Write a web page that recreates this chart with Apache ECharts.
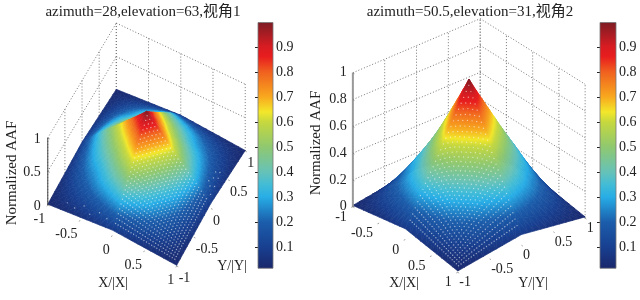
<!DOCTYPE html>
<html><head><meta charset="utf-8">
<style>html,body{margin:0;padding:0;background:#fff}#c{width:640px;height:300px}</style>
<script src="https://cdn.jsdelivr.net/npm/echarts@6/dist/echarts.min.js"></script>
</head><body><div id="c"></div>
<script>
// Surface heights, Y = -1 ... 1 by rows, X = -1 ... 1 by columns (step 0.1)
const row00=[.010,.017,.024,.031,.038,.045,.052,.059,.066,.073,.080,.073,.066,.059,.052,.045,.038,.031,.024,.017,.010];
const row01=[.017,.034,.050,.067,.083,.099,.115,.131,.147,.163,.178,.163,.147,.131,.115,.099,.083,.067,.050,.034,.017];
const row02=[.024,.050,.076,.102,.128,.153,.178,.203,.227,.251,.275,.251,.227,.203,.178,.153,.128,.102,.076,.050,.024];
const row03=[.031,.067,.102,.137,.172,.206,.240,.273,.306,.339,.371,.339,.306,.273,.240,.206,.172,.137,.102,.067,.031];
const row04=[.038,.083,.128,.172,.215,.250,.295,.335,.375,.415,.455,.415,.375,.335,.295,.250,.215,.172,.128,.083,.038];
const row05=[.045,.099,.153,.206,.250,.290,.340,.390,.440,.490,.540,.490,.440,.390,.340,.290,.250,.206,.153,.099,.045];
const row06=[.052,.115,.178,.240,.295,.340,.390,.450,.510,.570,.630,.570,.510,.450,.390,.340,.295,.240,.178,.115,.052];
const row07=[.059,.131,.203,.273,.335,.390,.450,.510,.580,.650,.720,.650,.580,.510,.450,.390,.335,.273,.203,.131,.059];
const row08=[.066,.147,.227,.306,.375,.440,.510,.580,.650,.730,.810,.730,.650,.580,.510,.440,.375,.306,.227,.147,.066];
const row09=[.073,.163,.251,.339,.415,.490,.570,.650,.730,.820,.900,.820,.730,.650,.570,.490,.415,.339,.251,.163,.073];
const row10=[.080,.178,.275,.371,.455,.540,.630,.720,.810,.900,.995,.900,.810,.720,.630,.540,.455,.371,.275,.178,.080];
const row11=[.073,.163,.251,.339,.415,.490,.570,.650,.730,.820,.900,.820,.730,.650,.570,.490,.415,.339,.251,.163,.073];
const row12=[.066,.147,.227,.306,.375,.440,.510,.580,.650,.730,.810,.730,.650,.580,.510,.440,.375,.306,.227,.147,.066];
const row13=[.059,.131,.203,.273,.335,.390,.450,.510,.580,.650,.720,.650,.580,.510,.450,.390,.335,.273,.203,.131,.059];
const row14=[.052,.115,.178,.240,.295,.340,.390,.450,.510,.570,.630,.570,.510,.450,.390,.340,.295,.240,.178,.115,.052];
const row15=[.045,.099,.153,.206,.250,.290,.340,.390,.440,.490,.540,.490,.440,.390,.340,.290,.250,.206,.153,.099,.045];
const row16=[.038,.083,.128,.172,.215,.250,.295,.335,.375,.415,.455,.415,.375,.335,.295,.250,.215,.172,.128,.083,.038];
const row17=[.031,.067,.102,.137,.172,.206,.240,.273,.306,.339,.371,.339,.306,.273,.240,.206,.172,.137,.102,.067,.031];
const row18=[.024,.050,.076,.102,.128,.153,.178,.203,.227,.251,.275,.251,.227,.203,.178,.153,.128,.102,.076,.050,.024];
const row19=[.017,.034,.050,.067,.083,.099,.115,.131,.147,.163,.178,.163,.147,.131,.115,.099,.083,.067,.050,.034,.017];
const row20=[.010,.017,.024,.031,.038,.045,.052,.059,.066,.073,.080,.073,.066,.059,.052,.045,.038,.031,.024,.017,.010];
const surfaceRows=[row00,row01,row02,row03,row04,row05,row06,row07,row08,row09,row10,row11,row12,row13,row14,row15,row16,row17,row18,row19,row20];
const axisX=[-1,-.9,-.8,-.7,-.6,-.5,-.4,-.3,-.2,-.1,0,.1,.2,.3,.4,.5,.6,.7,.8,.9,1];
const axisY=axisX;

// Tick labels
const xTicks=[-1,-.5,0,.5,1];
const yTicks=[-1,-.5,0,.5,1];
const zTicksLeft=[0,.5,1];
const zTicksRight=[0,.2,.4,.6,.8,1];
const colorbarTicks=[.1,.2,.3,.4,.5,.6,.7,.8,.9];
const colorbarRange=[.015,.998];

// Colour map
const cmapValues=[0,.1,.2,.3,.35,.4,.5,.6,.64,.7,.8,.86,.9,1];
const cmapColors=['#1a276b','#183f90','#1b5dab','#27ade6','#42bcd6','#66c2b8','#8fc870','#c6d83e','#f3e72a','#f8a81e','#f0601f','#e81d1e','#d81c22','#7c1c24'];

// Bright mesh specks in the front quadrant, plus the few strays of the first view
const dotX=[.02,.06,.10,.14,.18,.22,.26,.30,.34,.38,.42,.46,.50,.54,.58,.62,.66,.70,.74,.78,.82,.86,.90,.94];
const dotY=[-.94,-.90,-.86,-.82,-.78,-.74,-.70,-.66,-.62,-.58,-.54,-.50,-.46,-.42,-.38,-.34,-.30,-.26,-.22,-.18,-.14,-.10,-.06,-.02];
const strayX=[.90,.86,.92,.88,.94,.90,.95,.86,-.75,-.62,-.50,-.38,-.25,-.12];
const strayY=[.45,.40,.36,.30,.22,.16,.08,.20,-.90,-.93,-.88,-.94,-.90,-.93];

const serif='"Liberation Serif","Noto Sans CJK SC",serif';
const views=[
 {az:28,el:63,zAspect:2.02,zTicks:zTicksLeft,xyIndex:0,zStroke:'#444',zWidth:1,strays:true,
  xOff:[-2.5,14.5],yOff:[2,12.5],zOff:[-7,1]},
 {az:50.5,el:31,zAspect:1.895,zTicks:zTicksRight,xyIndex:1,zStroke:'#999',zWidth:2,strays:false,
  xOff:[-6,10.5],yOff:[1.5,10.5],zOff:[-6,0]}
];
views.forEach(v=>{const a=v.az*Math.PI/180,e=v.el*Math.PI/180;
  v.ca=Math.cos(a);v.sa=Math.sin(a);v.se=Math.sin(e);v.ce=Math.cos(e);});
function project(v,x,y,z){
  return [x*v.ca+y*v.sa,(-x*v.sa+y*v.ca)*v.se+z*v.zAspect*v.ce];
}
function hexRgb(h){return [1,3,5].map(i=>parseInt(h.substr(i,2),16));}
const cmapRgb=cmapColors.map(hexRgb);
function colorAt(z){
  const n=cmapValues.length;
  if(z<=cmapValues[0])return 'rgb('+cmapRgb[0]+')';
  for(let i=1;i<n;i++){ if(z<=cmapValues[i]){
    const t=(z-cmapValues[i-1])/(cmapValues[i]-cmapValues[i-1]);
    return 'rgb('+cmapRgb[i].map((c,k)=>Math.round(cmapRgb[i-1][k]+(c-cmapRgb[i-1][k])*t)).join(',')+')';
  }}
  return 'rgb('+cmapRgb[n-1]+')';
}
function triFill(p,z){
  const z0=Math.min(z[0],z[1],z[2]),z1=Math.max(z[0],z[1],z[2]);
  const ax=p[1][0]-p[0][0],ay=p[1][1]-p[0][1],bx=p[2][0]-p[0][0],by=p[2][1]-p[0][1];
  const det=ax*by-ay*bx;
  const mean=colorAt((z[0]+z[1]+z[2])/3);
  if(z1-z0<1e-4||Math.abs(det)<0.05)return mean;
  const dz1=z[1]-z[0],dz2=z[2]-z[0];
  const gx=(dz1*by-dz2*ay)/det,gy=(ax*dz2-bx*dz1)/det;
  const g2=gx*gx+gy*gy;
  const low=p[z.indexOf(z0)];
  const x2=low[0]+gx*(z1-z0)/g2,y2=low[1]+gy*(z1-z0)/g2;
  const stops=[{offset:0,color:colorAt(z0)}];
  cmapValues.forEach(c=>{if(c>z0&&c<z1)stops.push({offset:(c-z0)/(z1-z0),color:colorAt(c)});});
  stops.push({offset:1,color:colorAt(z1)});
  return {type:'linear',x:low[0],y:low[1],x2:x2,y2:y2,global:true,colorStops:stops};
}
function heightAt(x,y){
  const fx=(x+1)*10,fy=(y+1)*10;
  const i=Math.min(19,Math.floor(fx)),j=Math.min(19,Math.floor(fy));
  const s=fx-i,t=fy-j;
  return surfaceRows[j][i]*(1-s)*(1-t)+surfaceRows[j][i+1]*s*(1-t)+surfaceRows[j+1][i]*(1-s)*t+surfaceRows[j+1][i+1]*s*t;
}
const cellIndex=[];
for(let j=0;j<20;j++)for(let i=0;i<20;i++)cellIndex.push([i,j]);
const dotData=[];
dotX.forEach(x=>dotY.forEach(y=>dotData.push([x,y])));
const strayData=strayX.map((x,i)=>[x,strayY[i]]);

function surfaceSeries(v){
  const order=cellIndex.slice().sort((p,q)=>{
    const d=c=>axisX[c[0]]*v.sa-axisY[c[1]]*v.ca; return d(p)-d(q);});
  return {type:'custom',coordinateSystem:'cartesian2d',xAxisIndex:v.xyIndex,yAxisIndex:v.xyIndex,
    silent:true,animation:false,clip:false,z:3,progressive:0,
    data:order,encode:{x:0,y:1},
    renderItem:function(params,api){
      const c=order[params.dataIndex],i=c[0],j=c[1];
      const pts=[[i,j],[i+1,j],[i+1,j+1],[i,j+1]].map(q=>{
        const z=surfaceRows[q[1]][q[0]];
        return {z:z,p:api.coord(project(v,axisX[q[0]],axisY[q[1]],z))};
      });
      const tri=(a,b,d)=>{
        const P=[pts[a].p,pts[b].p,pts[d].p],Z=[pts[a].z,pts[b].z,pts[d].z];
        const f=triFill(P,Z);
        return {type:'polygon',shape:{points:P},style:{fill:f,stroke:f,lineWidth:.7}};
      };
      const samesign=(axisX[i]+.05)*(axisY[j]+.05)>0;
      const children=samesign?[tri(0,1,2),tri(0,2,3)]:[tri(0,1,3),tri(1,2,3)];
      return {type:'group',children:children};
    }};
}
function dotSeries(v){
  const pts=v.strays?dotData.concat(strayData):dotData;
  return {type:'custom',coordinateSystem:'cartesian2d',xAxisIndex:v.xyIndex,yAxisIndex:v.xyIndex,
    silent:true,animation:false,clip:false,z:4,progressive:0,
    data:pts,encode:{x:0,y:1},
    renderItem:function(params,api){
      const d=pts[params.dataIndex];
      const p=api.coord(project(v,d[0],d[1],heightAt(d[0],d[1])));
      return {type:'circle',shape:{cx:p[0],cy:p[1],r:.7},style:{fill:'#fff',opacity:.55}};
    }};
}
function line(api,v,a,b,style){
  const p=api.coord(project(v,a[0],a[1],a[2])),q=api.coord(project(v,b[0],b[1],b[2]));
  return {type:'line',shape:{x1:p[0],y1:p[1],x2:q[0],y2:q[1]},style:style};
}
function wallSeries(v){
  return {type:'custom',coordinateSystem:'cartesian2d',xAxisIndex:v.xyIndex,yAxisIndex:v.xyIndex,
    silent:true,animation:false,clip:false,z:2,data:[[0,0]],encode:{x:0,y:1},
    renderItem:function(params,api){
      const dot={stroke:'#777',lineWidth:1,lineDash:[1,2],fill:null};
      const out=[];
      v.zTicks.forEach(z=>{
        out.push(line(api,v,[-1,-1,z],[-1,1,z],dot));
        out.push(line(api,v,[-1,1,z],[1,1,z],dot));
      });
      xTicks.forEach(x=>out.push(line(api,v,[x,1,0],[x,1,1],dot)));
      yTicks.forEach(y=>out.push(line(api,v,[-1,y,0],[-1,y,1],dot)));
      return {type:'group',children:out};
    }};
}
function axisSeries(v){
  return {type:'custom',coordinateSystem:'cartesian2d',xAxisIndex:v.xyIndex,yAxisIndex:v.xyIndex,
    silent:true,animation:false,clip:false,z:5,data:[[0,0]],encode:{x:0,y:1},
    renderItem:function(params,api){
      const out=[];
      const edge={stroke:'#666',lineWidth:.6,fill:null};
      const zs={stroke:v.zStroke,lineWidth:v.zWidth,fill:null};
      out.push(line(api,v,[-1,-1,0],[-1,-1,1],zs));
      const txt=(s,p,off,align)=>({type:'text',style:{text:String(s),x:p[0]+off[0],y:p[1]+off[1],
        fill:'#222',fontFamily:serif,fontSize:14,align:align,verticalAlign:'middle'}});
      xTicks.forEach(x=>{
        out.push(line(api,v,[x,-1,0],[x,-1.025,0],edge));
        out.push(txt(x,api.coord(project(v,x,-1,0)),v.xOff,'right'));
      });
      yTicks.forEach(y=>{
        out.push(line(api,v,[1,y,0],[1.025,y,0],edge));
        out.push(txt(y,api.coord(project(v,1,y,0)),v.yOff,'left'));
      });
      v.zTicks.forEach(z=>{
        out.push(line(api,v,[-1,-1,z],[-.97,-1,z],edge));
        out.push(txt(z,api.coord(project(v,-1,-1,z)),v.zOff,'right'));
      });
      return {type:'group',children:out};
    }};
}
function colorbarSeries(idx){
  return {type:'custom',coordinateSystem:'cartesian2d',xAxisIndex:idx,yAxisIndex:idx,
    silent:true,animation:false,clip:false,z:2,data:[[0,colorbarRange[0],colorbarRange[1]]],encode:{x:0,y:[1,2]},
    renderItem:function(params,api){
      const top=api.coord([0,colorbarRange[1]]),bot=api.coord([0,colorbarRange[0]]);
      const w=params.coordSys.width,x=params.coordSys.x;
      const span=colorbarRange[1]-colorbarRange[0];
      const stops=cmapValues.map(c=>({offset:Math.min(1,Math.max(0,(colorbarRange[1]-c)/span)),color:colorAt(c)})).reverse();
      return {type:'rect',shape:{x:x,y:top[1],width:w,height:bot[1]-top[1]},
        style:{fill:{type:'linear',x:0,y:0,x2:0,y2:1,colorStops:stops},stroke:'#777',lineWidth:.8}};
    }};
}
const hiddenX=(gi,min,max)=>({type:'value',gridIndex:gi,min:min,max:max,show:false});
const cbAxisY=(gi)=>({type:'value',gridIndex:gi,min:0,max:1,position:'right',
  axisLine:{show:false},splitLine:{show:false},
  axisTick:{show:true,inside:true,length:3,customValues:colorbarTicks,lineStyle:{color:'#222',width:1}},
  axisLabel:{show:true,margin:3,customValues:colorbarTicks,color:'#222',fontFamily:serif,fontSize:14,formatter:val=>String(val)}});
const labelStyle=(t,s)=>({text:t,fill:'#222',fontFamily:serif,fontSize:s,align:'center',verticalAlign:'middle'});

const chart=echarts.init(document.getElementById('c'),null,{renderer:'canvas'});
chart.setOption({
  animation:false,backgroundColor:'#fff',
  title:[
    {text:'azimuth=28,elevation=63,视角1',left:138,top:0,textAlign:'center',textStyle:{fontFamily:serif,fontWeight:'normal',fontSize:15,color:'#222'}},
    {text:'azimuth=50.5,elevation=31,视角2',left:465,top:0,textAlign:'center',textStyle:{fontFamily:serif,fontWeight:'normal',fontSize:15,color:'#222'}}
  ],
  grid:[
    {left:37,top:17.4,width:219,height:255.5},
    {left:337,top:14.5,width:264,height:272.25},
    {left:258,top:22,width:15,height:250},
    {left:600,top:22,width:16,height:250}
  ],
  xAxis:[hiddenX(0,-1.5,1.5),hiddenX(1,-1.6,1.6),hiddenX(2,0,1),hiddenX(3,0,1)],
  yAxis:[
    {type:'value',gridIndex:0,min:-1.3,max:2.2,show:false},
    {type:'value',gridIndex:1,min:-.9,max:2.4,show:false},
    cbAxisY(2),cbAxisY(3)
  ],
  graphic:[
    {type:'text',x:12,y:173,rotation:Math.PI/2,style:labelStyle('Normalized AAF',15),z:10},
    {type:'text',x:316,y:143,rotation:Math.PI/2,style:labelStyle('Normalized AAF',15),z:10},
    {type:'text',x:113,y:283,style:labelStyle('X/|X|',14),z:10},
    {type:'text',x:232,y:266,style:labelStyle('Y/|Y|',14),z:10},
    {type:'text',x:404,y:283,style:labelStyle('X/|X|',14),z:10},
    {type:'text',x:533,y:283,style:labelStyle('Y/|Y|',14),z:10}
  ],
  series:[
    wallSeries(views[0]),surfaceSeries(views[0]),dotSeries(views[0]),axisSeries(views[0]),
    wallSeries(views[1]),surfaceSeries(views[1]),dotSeries(views[1]),axisSeries(views[1]),
    colorbarSeries(2),colorbarSeries(3)
  ]
});
</script></body></html>
